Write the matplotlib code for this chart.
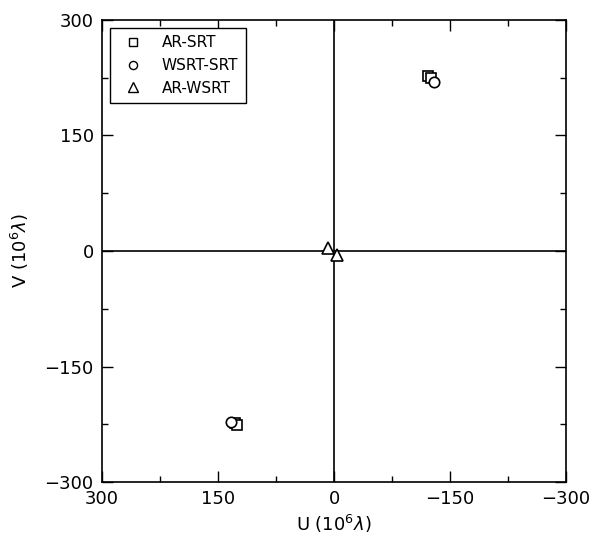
import matplotlib
matplotlib.use("Agg")
import matplotlib.pyplot as plt
from matplotlib.ticker import MultipleLocator

# Data (U, V in 10^6 lambda)
ar_srt_u = [-121.6, -125.5, 128.0, 125.5]
ar_srt_v = [227.0, 224.7, -223.4, -226.0]
wsrt_srt_u = [-129.0, 133.0]
wsrt_srt_v = [220.0, -222.0]
ar_wsrt_u = [8.0, -3.5]
ar_wsrt_v = [3.5, -5.5]

ticks = [300, 150, 0, -150, -300]
tick_labels = ["300", "150", "0", "\u2212150", "\u2212300"]

fig = plt.figure(figsize=(6.04, 5.37), dpi=100)
ax = fig.add_axes([0.169, 0.1024, 0.768, 0.8604])

ax.axhline(0, color="black", lw=1.2, zorder=1)
ax.axvline(0, color="black", lw=1.2, zorder=1)

ms = 7.5
ax.plot(ar_srt_u, ar_srt_v, ls="none", marker="s", mfc="white", mec="black",
        mew=1.2, ms=ms, label="AR-SRT", zorder=3)
ax.plot(wsrt_srt_u, wsrt_srt_v, ls="none", marker="o", mfc="white", mec="black",
        mew=1.2, ms=ms, label="WSRT-SRT", zorder=4)
ax.plot(ar_wsrt_u, ar_wsrt_v, ls="none", marker="^", mfc="white", mec="black",
        mew=1.2, ms=ms+1, label="AR-WSRT", zorder=3)

ax.set_xlim(300, -300)
ax.set_ylim(-300, 300)
ax.set_xticks(ticks)
ax.set_xticklabels(tick_labels)
ax.set_yticks(ticks)
ax.set_yticklabels(tick_labels)
ax.xaxis.set_minor_locator(MultipleLocator(75))
ax.yaxis.set_minor_locator(MultipleLocator(75))
ax.tick_params(which="both", direction="in", top=True, right=True, labelsize=13, width=1, pad=6)
ax.tick_params(which="major", length=8)
ax.tick_params(which="minor", length=4)
for s in ax.spines.values():
    s.set_linewidth(1.2)

ax.set_xlabel(r"U (10$^6\lambda$)", fontsize=13, labelpad=3)
ax.set_ylabel(r"V (10$^6\lambda$)", fontsize=13, labelpad=10)

leg = ax.legend(loc="upper left", numpoints=1, fontsize=11, markerscale=0.78,
                handlelength=2.0, fancybox=False, framealpha=1, edgecolor="black",
                borderpad=0.5, borderaxespad=0.5, handletextpad=0.9, labelspacing=0.5)
leg.get_frame().set_linewidth(1.0)
for h in leg.legend_handles:
    h.set_markeredgewidth(1.0)

fig.savefig("out.png", dpi=100)
